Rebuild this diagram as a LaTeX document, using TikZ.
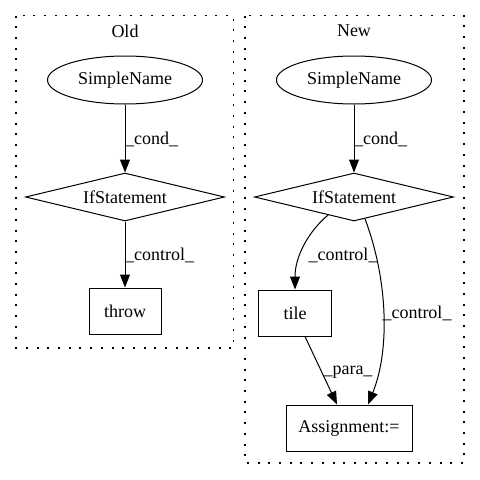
\documentclass[tikz,border=0pt]{standalone}
\usepackage{fontspec}
\setmainfont{Liberation Serif}
\usetikzlibrary{shapes.geometric,arrows.meta,calc}
\begin{document}
\begin{tikzpicture}[x=1pt,y=-1pt,
  every node/.style={font=\fontsize{18}{22}\selectfont},
  cluster/.style={draw,line width=1.3pt,dash pattern=on 2pt off 8.7pt},
  ell/.style={draw,ellipse,line width=1pt,minimum width=155pt,minimum height=48pt,inner sep=0pt},
  dia/.style={draw,diamond,aspect=4,line width=1pt,minimum width=199pt,minimum height=48pt,inner sep=0pt},
  box/.style={draw,rectangle,line width=1pt,minimum height=46pt,inner sep=0pt},
  edge/.style={line width=1pt,-{Triangle[length=13pt,width=10pt]}},
  lbl/.style={inner sep=0pt}
]
\useasboundingbox (0,0) rectangle (480,480);
% clusters
\draw[cluster] (16,15.5) rectangle (233.5,348);
\draw[cluster] (245,15.5) rectangle (464,463);
\node (oldlbl) at (125,31) {Old};
\node (newlbl) at (354,31) {New};
% Old
\node[ell] (osn) at (125,80) {SimpleName};
\node[dia] (oif) at (125,197) {IfStatement};
\node[box,minimum width=72pt] (throw) at (125,311) {throw};
\draw[edge] (osn) -- (oif);
\draw[edge] (oif) -- (throw);
\node[lbl,anchor=west] (oc1) at (125,139) {\_cond\_};
\node[lbl,anchor=west] (oc2) at (125,255) {\_control\_};
% New
\node[ell] (nsn) at (354,80) {SimpleName};
\node[dia] (nif) at (354,197) {IfStatement};
\node[box,minimum width=73pt] (tile) at (295,313) {tile};
\node[box,minimum width=126pt] (asg) at (349,428) {Assignment:=};
\draw[edge] (nsn) -- (nif);
\draw[edge] ($(nif.south)!0.26!(nif.west)$) .. controls (310,230) and (295,255) .. (tile.north);
\draw[edge] ($(nif.south)!0.11!(nif.east)$) .. controls (388,280) and (390,350) .. ($(asg.north)+(19,0)$);
\draw[edge] ($(tile.south)+(10,0)$) -- ($(asg.north)+(-12,0)$);
\node[lbl,anchor=west] (nc1) at (354,139) {\_cond\_};
\node[lbl] (nc2) at (343,255) {\_control\_};
\node[lbl] (nc3) at (417,313) {\_control\_};
\node[lbl] (np) at (348,372) {\_para\_};
\end{tikzpicture}
\end{document}
